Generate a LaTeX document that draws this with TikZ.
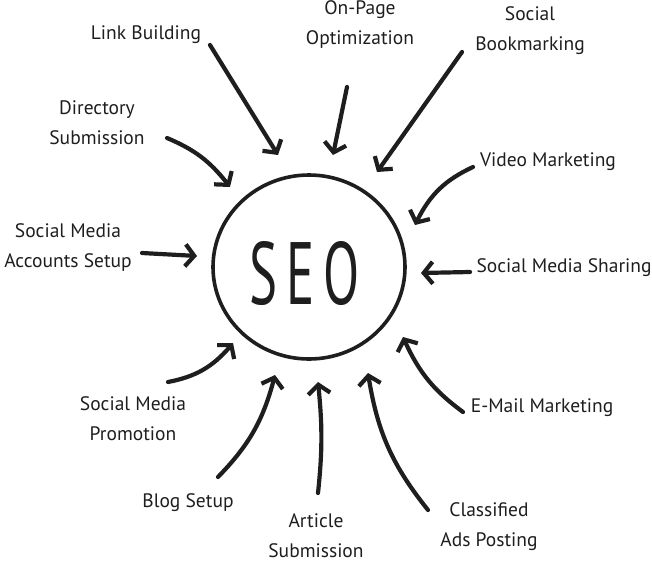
\documentclass[tikz,border=0pt]{standalone}
\usepackage{fontspec}
\usepackage{graphicx}
\setmainfont{PT Sans}
\usetikzlibrary{arrows.meta,shapes.geometric,bending}
\definecolor{ink}{HTML}{1E1E1E}

\begin{document}
\begin{tikzpicture}[x=1pt, y=-1pt,
  topic/.style={text=ink, font=\fontsize{19.5}{30}\selectfont, align=center, inner sep=0pt},
  feed/.style={draw=ink, line width=4.2pt, line cap=round, line join=round,
    -{Straight Barb[length=9pt, width=22pt]}}]
    \useasboundingbox (0,0) rectangle (652,562);

    % Centre
    \node [draw=ink, line width=3.6pt, ellipse, minimum width=192pt,
           minimum height=184pt] (seo) at (309,267) {};
    \node [text=ink, inner sep=0pt] (seotext) at (305,274)
          {\resizebox{110pt}{63pt}{S\,E\,O}};

    % Topics
    \foreach \n/\x/\y/\t in {lb/146/35/Link Building,
                             op/360/25/On-Page\\Optimization,
                             sb/530/31/Social\\Bookmarking,
                             ds/97/123/Directory\\Submission,
                             vm/548/162/Video Marketing,
                             sa/68/248/Social Media\\Accounts Setup,
                             ss/564/268/Social Media Sharing,
                             sp/133/419/Social Media\\Promotion,
                             em/542/408/E-Mail Marketing,
                             bs/188/503/Blog Setup,
                             as/316/536/Article\\Submission,
                             ca/489/527/Classified\\Ads Posting} {
      \node [topic] (\n) at (\x,\y) {\t};
    }

    % Arrow ends
    \foreach \n/\sx/\sy/\tx/\ty in {lb/210/45/278/155, op/347/87/333/155,
                                    sb/462/52/377/172, ds/167/138/230/187,
                                    vm/473/167/415/225, sa/142/253/197/256,
                                    ss/470/272/421/273, sp/168/382/233/343,
                                    em/463/412/403/337, ca/428/510/368/373,
                                    bs/218/477/275/375, as/318/493/318/382} {
      \coordinate (s-\n) at (\sx,\sy);
      \coordinate (t-\n) at (\tx,\ty);
    }

    % Arrows
    \foreach \n/\b in {lb/0, op/0, sb/0, ds/15, vm/-20, sa/0,
                       ss/0, sp/-20, em/15, ca/15, bs/-15, as/-6} {
      \draw [feed] (s-\n) to [bend left=\b] (t-\n);
    }
\end{tikzpicture}
\end{document}
